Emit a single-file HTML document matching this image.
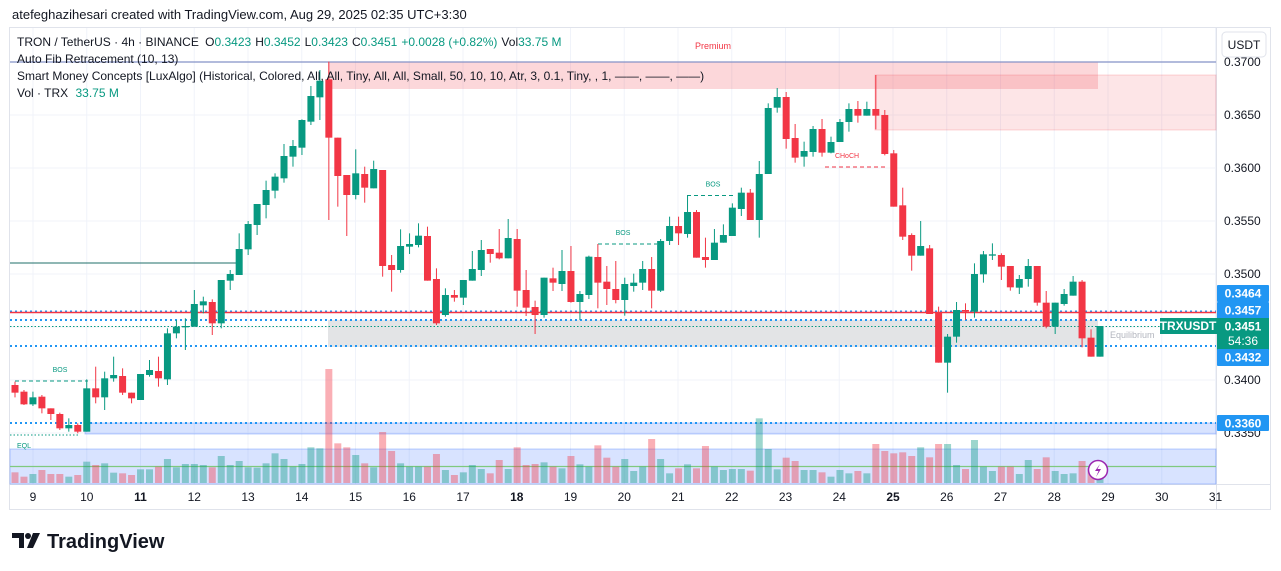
<!DOCTYPE html>
<html><head><meta charset="utf-8">
<style>
html,body{margin:0;padding:0;background:#fff;width:1281px;height:571px;overflow:hidden;font-family:"Liberation Sans",sans-serif;}
svg{position:absolute;left:0;top:0}
</style></head><body>
<svg id="s" width="1281" height="571" xmlns="http://www.w3.org/2000/svg" font-family="Liberation Sans, sans-serif"></svg>
<script>
const s=document.getElementById('s');let h='';
const G='#089981',R='#f23645';
// frame
h+='<rect x="0" y="0" width="1281" height="571" fill="#fff"/>';
h+='<text x="12" y="19" font-size="13" fill="#131722">atefeghazihesari created with TradingView.com, Aug 29, 2025 02:35 UTC+3:30</text>';
h+='<rect x="9.5" y="27.5" width="1261" height="482" fill="none" stroke="#e0e3eb"/>';
h+='<line x1="1216.5" y1="28" x2="1216.5" y2="509" stroke="#e0e3eb"/>';
h+='<line x1="10" y1="484.5" x2="1270" y2="484.5" stroke="#e0e3eb"/>';
// grid
const py=p=>62+(0.37-p)*10600;
[0.37,0.365,0.36,0.355,0.35,0.345,0.34,0.335].forEach(p=>{h+=`<line x1="10" x2="1216" y1="${py(p)}" y2="${py(p)}" stroke="#f0f3fa"/>`});
const days=[9,10,11,12,13,14,15,16,17,18,19,20,21,22,23,24,25,26,27,28,29,30,31];
days.forEach((d,i)=>{const x=33+i*53.75;h+=`<line x1="${x}" x2="${x}" y1="28" y2="484" stroke="#f0f3fa"/>`;
 const b=(d==11||d==18||d==25);h+=`<text x="${x}" y="501" font-size="12" text-anchor="middle" fill="#131722" ${b?'font-weight="bold"':''}>${d}</text>`});
// zones
h+='<rect x="10" y="449" width="1206" height="35" fill="rgba(41,98,255,0.18)" stroke="rgba(41,98,255,0.3)"/>';
h+='<line x1="10" x2="1216" y1="466.5" y2="466.5" stroke="#7fc97f" stroke-width="1.2"/>';
h+='<text x="17" y="448" font-size="7" fill="#089981">EQL</text>';
h+='<rect x="85" y="423" width="1131" height="11" fill="rgba(41,98,255,0.18)" stroke="rgba(41,98,255,0.3)"/>';
h+='<line x1="10" x2="80" y1="435" y2="435" stroke="#089981" stroke-dasharray="1.5,2"/>';
h+='<rect x="328" y="320" width="770" height="27" fill="#e3e4e6"/>';
h+='<text x="1110" y="338" font-size="9" fill="#b2b5be">Equilibrium</text>';
h+='<rect x="328" y="62" width="770" height="27" fill="rgba(242,54,69,0.2)"/>';
h+='<rect x="875" y="75" width="341" height="55" fill="rgba(242,54,69,0.13)" stroke="rgba(242,54,69,0.2)"/>';
h+='<text x="713" y="49" font-size="9" fill="#f23645" text-anchor="middle">Premium</text>';
h+='<line x1="10" x2="1216" y1="62" y2="62" stroke="#8592c7" stroke-width="1.3"/>';
h+='<line x1="10" x2="237" y1="263" y2="263" stroke="#1f6f6a" stroke-width="1"/>';
h+='<line x1="10" x2="1216" y1="311.5" y2="311.5" stroke="#2196f3" stroke-width="2" stroke-dasharray="2,3"/>';
h+='<line x1="10" x2="1216" y1="312.5" y2="312.5" stroke="#f23645" stroke-width="1.5"/>';
h+='<line x1="10" x2="1216" y1="320" y2="320" stroke="#2196f3" stroke-width="2" stroke-dasharray="2,3"/>';
h+='<line x1="10" x2="1216" y1="326.5" y2="326.5" stroke="#089981" stroke-dasharray="1.5,2"/>';
h+='<line x1="10" x2="1216" y1="346" y2="346" stroke="#2196f3" stroke-width="2" stroke-dasharray="2,3"/>';
h+='<line x1="10" x2="1216" y1="423" y2="423" stroke="#2196f3" stroke-width="2" stroke-dasharray="2,3"/>';
// BOS/CHoCH
const dl=(x1,x2,y,c,t,tx)=>{h+=`<line x1="${x1}" x2="${x2}" y1="${y}" y2="${y}" stroke="${c}" stroke-dasharray="4,3"/><text x="${tx}" y="${y-9}" font-size="7" fill="${c}" text-anchor="middle">${t}</text>`};
dl(15,88,381,'#089981','BOS',60);dl(598,657,244,'#089981','BOS',623);dl(687,735,195.5,'#089981','BOS',713);
dl(825,885,167,'#f23645','CHoCH',847);
// candles [c,top,bot,hi,lo,vol] in zoom coords (real y = 60+z/3)
const D=[
['r',975,998,965,1012,1237],['r',995,1033,990,1035,1250],['g',1012,1033,995,1038,1242],['r',1010,1045,1005,1060,1230],['r',1045,1062,1045,1080,1242],
['r',1062,1105,1058,1110,1242],['g',1095,1105,1075,1115,1250],['r',1095,1115,1090,1120,1245],['g',985,1115,958,1115,1205],['r',985,1012,920,1030,1215],
['g',955,1012,935,1050,1210],['g',945,955,890,965,1238],['r',948,998,925,1005,1240],['r',998,1015,998,1030,1245],['g',942,1020,942,1020,1228],
['g',930,945,900,950,1228],['r',933,955,890,980,1220],['g',820,958,805,975,1197],['g',800,820,780,835,1222],['g',798,802,775,870,1212],
['g',732,800,690,800,1212],['g',724,736,710,760,1215],['r',726,790,718,825,1222],['g',660,790,660,805,1188],['g',642,662,630,690,1215],
['g',567,645,520,645,1203],['g',492,568,483,585,1222],['g',432,495,432,525,1223],['g',390,435,362,475,1210],['g',350,392,340,415,1180],
['g',288,355,252,368,1197],['g',258,290,240,320,1220],['g',180,263,178,285,1212],['g',108,185,78,195,1162],['g',62,112,30,180,1165],
['r',58,233,5,480,927],['r',233,348,233,440,1150],['r',345,405,345,528,1162],['g',340,405,268,418,1185],['r',342,383,320,428,1210],
['g',327,385,302,385,1222],['r',330,618,330,650,1116],['r',615,630,585,695,1173],['g',558,630,508,638,1210],['g',552,560,520,582,1220],
['g',527,555,490,562,1220],['r',528,662,500,662,1220],
['r',657,790,625,795,1182],['g',705,765,685,770,1230],['r',705,713,690,725,1245],['g',660,713,660,735,1237],['g',627,662,573,662,1215],
['g',570,630,540,648,1227],['r',567,582,567,608,1240],['r',578,595,507,598,1200],['g',534,595,477,595,1227],['r',537,692,507,740,1162],
['r',690,743,630,768,1215],['r',741,765,722,822,1212],['g',653,765,653,773,1207],['r',655,668,623,693,1220],['g',633,672,570,693,1225],
['r',633,726,558,728,1188],['g',702,726,693,780,1213],['g',590,705,587,717,1220],['r',591,668,552,745,1156],['r',665,687,618,735,1193],
['r',687,720,603,730,1220],['g',672,720,653,767,1197],['g',668,678,641,695,1233],['g',627,668,603,690,1220],['r',627,692,591,745,1137],
['g',543,692,537,696,1197],['g',498,543,470,555,1240],['r',498,520,470,555,1225],['g',456,522,405,533,1213],['r',456,593,450,593,1225],
['r',591,600,533,623,1158],['g',548,600,507,600,1220],['g',525,548,493,548,1230],['g',443,528,430,528,1227],['g',398,447,383,468,1227],
['r',398,480,387,480,1232],['g',342,480,303,533,1075],['g',144,342,130,342,1167],['g',111,143,84,158,1228],['r',111,237,96,266,1193],
['r',234,293,192,308,1203],['g',273,290,245,320,1230],['g',207,276,198,290,1230],['r',207,278,177,290,1237],['g',246,278,230,280,1250],
['g',186,246,177,246,1230],
['g',147,186,130,215,1240],['r',147,167,123,188,1233],['g',147,167,125,167,1240],['r',147,167,45,208,1152],['r',165,282,150,286,1173],
['r',280,440,270,440,1180],['r',436,530,383,540,1177],['r',525,587,520,632,1188],['g',558,587,483,587,1162],['r',565,762,555,762,1192],
['r',757,908,740,908,1152],['g',830,908,822,998,1152],['g',750,830,726,848,1215],['r',750,755,730,780,1227],['g',642,755,610,773,1140],
['g',583,643,573,668,1220],['g',583,587,550,600,1233],['r',585,620,580,660,1220],['r',618,682,618,692,1220],['g',657,683,645,702,1242],
['g',618,657,597,680,1200],['r',618,728,618,737,1227],['r',728,800,693,805,1192],['g',728,800,728,822,1233],['g',702,732,687,737,1242],
['g',665,707,648,707,1240],['r',665,835,660,862,1203],['r',833,890,808,890,1225],['g',798,890,798,890,1250]];
const Y=z=>60+z/3;
D.forEach((c,i)=>{const x=15+i*8.967;const col=c[0]=='g'?G:R;
 const vt=Y(c[5]);h+=`<rect x="${x-3.5}" y="${vt}" width="7" height="${483-vt}" fill="${c[0]=='g'?'rgba(8,153,129,0.4)':'rgba(242,54,69,0.4)'}"/>`;
 h+=`<line x1="${x}" x2="${x}" y1="${Y(c[3])}" y2="${Y(c[4])}" stroke="${col}" stroke-width="1"/>`;
 const t=Y(c[1]),b=Y(c[2]);h+=`<rect x="${x-3.5}" y="${t}" width="7" height="${Math.max(1,b-t)}" fill="${col}"/>`;});
// lightning
h+='<circle cx="1098" cy="470" r="9.5" fill="#fff" stroke="#9c27b0" stroke-width="1.5"/><path d="M1100 464 L1095 471 L1098.5 471 L1096 477 L1101 469 L1097.5 469 Z" fill="#9c27b0"/>';
// price axis
[[0.37,'0.3700'],[0.365,'0.3650'],[0.36,'0.3600'],[0.355,'0.3550'],[0.35,'0.3500'],[0.34,'0.3400'],[0.335,'0.3350']].forEach(([p,t])=>{h+=`<text x="1224" y="${py(p)+4}" font-size="12" fill="#131722">${t}</text>`});
const lab=(y,hh,c,t)=>{h+=`<rect x="1217" y="${y}" width="52" height="${hh}" fill="${c}" rx="1"/><text x="1243" y="${y+12.5}" font-size="12" font-weight="bold" fill="#fff" text-anchor="middle">${t}</text>`};
lab(285,17,'#2196f3','0.3464');lab(302,17,'#2196f3','0.3457');
h+='<rect x="1217" y="318" width="52" height="33" fill="#089981"/><text x="1243" y="330.5" font-size="12" font-weight="bold" fill="#fff" text-anchor="middle">0.3451</text><text x="1243" y="345" font-size="12" fill="#fff" text-anchor="middle">54:36</text>';
lab(349,17,'#2196f3','0.3432');lab(415,16,'#2196f3','0.3360');
h+='<rect x="1160" y="318" width="57" height="16" fill="#089981"/><text x="1188" y="330" font-size="12" font-weight="bold" fill="#fff" text-anchor="middle">TRXUSDT</text>';
h+='<rect x="1222" y="32" width="44" height="25" rx="4" fill="#fff" stroke="#e0e3eb"/><text x="1244" y="49" font-size="12" fill="#131722" text-anchor="middle">USDT</text>';
// legend
h+='<text x="17" y="46" font-size="12" fill="#131722">TRON / TetherUS · 4h · BINANCE <tspan dx="3">O</tspan><tspan fill="#089981">0.3423</tspan><tspan dx="4">H</tspan><tspan fill="#089981">0.3452</tspan><tspan dx="4">L</tspan><tspan fill="#089981">0.3423</tspan><tspan dx="4">C</tspan><tspan fill="#089981">0.3451</tspan><tspan dx="4" fill="#089981">+0.0028 (+0.82%)</tspan><tspan dx="4">Vol</tspan><tspan fill="#089981">33.75 M</tspan></text>';
h+='<text x="17" y="63" font-size="12" fill="#131722">Auto Fib Retracement (10, 13)</text>';
h+='<text x="17" y="80" font-size="12" fill="#131722">Smart Money Concepts [LuxAlgo] (Historical, Colored, All, All, Tiny, All, All, Small, 50, 10, 10, Atr, 3, 0.1, Tiny, , 1, ——, ——, ——)</text>';
h+='<text x="17" y="97" font-size="12" fill="#131722">Vol · TRX <tspan dx="4" fill="#089981">33.75 M</tspan></text>';
// footer logo
h+='<path d="M12 533 h12 v15 h-5 v-10 h-7z" fill="#131722"/><circle cx="28" cy="536" r="3" fill="#131722"/><path d="M33 533 h7 l-7 15 h-6z" fill="#131722"/>';
h+='<text x="47" y="548" font-size="20" font-weight="bold" fill="#131722">TradingView</text>';
s.innerHTML=h;
</script>
</body></html>
